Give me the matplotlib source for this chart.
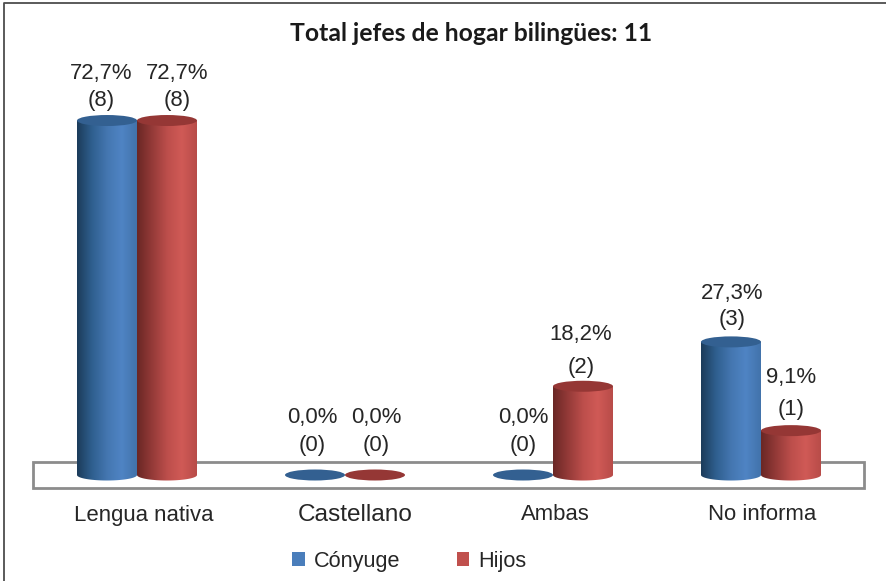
import numpy as np
import matplotlib
matplotlib.use("Agg")
import matplotlib.pyplot as plt
from matplotlib.colors import LinearSegmentedColormap
from matplotlib.lines import Line2D
from matplotlib.patches import Ellipse, Polygon, Rectangle, Patch

categories = ["Lengua nativa", "Castellano", "Ambas", "No informa"]
conyuge_pct = [72.7, 0.0, 0.0, 27.3]
hijos_pct = [72.7, 0.0, 18.2, 9.1]
conyuge_n = [8, 0, 0, 3]
hijos_n = [8, 0, 2, 1]
title = "Total jefes de hogar bilingües: 11"

W, H = 887, 581
PX_X = 208.0    # px per category
PX_Y = 4.876    # px per percent
X0, Y0 = 137, 475
BAR_W = 60 / PX_X
ELL_H = 11 / PX_Y

BLUE = LinearSegmentedColormap.from_list(
    "b", ["#1c3c5a", "#2f5f8f", "#4476b0", "#4f84c4", "#4273ab"])
RED = LinearSegmentedColormap.from_list(
    "r", ["#6a2725", "#943a38", "#bc4e4b", "#d05a56", "#b84c49"])
BLUE_TOP, RED_TOP = "#336091", "#953735"


def xd(px):
    return (px - X0) / PX_X


def yd(py):
    return (Y0 - py) / PX_Y


def cylinder(ax, xc, val, cmap, top, z):
    if val > 0:
        t = np.linspace(np.pi, 2 * np.pi, 40)
        xs = xc + BAR_W / 2 * np.cos(t)
        ys = ELL_H / 2 * np.sin(t)
        verts = np.column_stack([xs, ys])
        verts = np.vstack([verts, [xc + BAR_W / 2, val], [xc - BAR_W / 2, val]])
        grad = np.linspace(0, 1, 128).reshape(1, -1)
        im = ax.imshow(grad, cmap=cmap, aspect="auto", zorder=z,
                       extent=[xc - BAR_W / 2, xc + BAR_W / 2, -ELL_H, val])
        im.set_clip_path(Polygon(verts, closed=True, transform=ax.transData))
    ax.add_patch(Ellipse((xc, val), BAR_W, ELL_H, facecolor=top, edgecolor="none", zorder=z + 0.1))


plt.rcParams["font.family"] = "Liberation Sans"
fig = plt.figure(figsize=(W / 100, H / 100), dpi=100)
ax = fig.add_axes([0, 0, 1, 1])
ax.axis("off")

# chart frame, only top and left show in the scan
fig.add_artist(Line2D([4.5 / W, 4.5 / W, 1], [0, 1 - 3 / H, 1 - 3 / H], transform=fig.transFigure,
                      color="#4d4d4d", linewidth=1.3))

# floor of the 3d plot
ax.add_patch(Rectangle((xd(33), yd(488)), xd(864) - xd(33), yd(462) - yd(488),
                       facecolor="white", edgecolor="#8c8c8c", linewidth=2.0, zorder=1))

# label nudges in px: sideways, count above bar top, percent above count
label_dx_blue = [-6, -3, 0, 1]
label_dx_red = [10, 1, -2, 0]
label_dy_blue = [20.5, 30, 30, 22]
label_dy_red = [20.5, 30, 19, 21]
label_gap_blue = [27, 27, 27, 26]
label_gap_red = [27, 27, 33, 32]
cat_px = [144, 355, 555, 762]
cat_size = [15.9, 17.6, 15.9, 15.9]

for i in range(len(categories)):
    xb = i - BAR_W / 2
    xr = i + BAR_W / 2
    cylinder(ax, xr, hijos_pct[i], RED, RED_TOP, 3)
    cylinder(ax, xb, conyuge_pct[i], BLUE, BLUE_TOP, 4)
    for xc, p, n, dx, dy, gap in (
            (xb, conyuge_pct[i], conyuge_n[i], label_dx_blue[i], label_dy_blue[i], label_gap_blue[i]),
            (xr, hijos_pct[i], hijos_n[i], label_dx_red[i], label_dy_red[i], label_gap_red[i])):
        ax.text(xc + dx / PX_X, p + dy / PX_Y, f"({n})", ha="center", va="center",
                fontsize=15.9, color="#262626", zorder=6)
        ax.text(xc + dx / PX_X, p + (dy + gap) / PX_Y, f"{p:.1f}%".replace(".", ","), ha="center", va="center",
                fontsize=15.9, color="#262626", zorder=6)
    ax.text(xd(cat_px[i]), yd(515), categories[i], ha="center", va="center",
            fontsize=cat_size[i], color="#262626")

ax.set_xlim(xd(0), xd(W))
ax.set_ylim(yd(H), yd(0))

ax.text(xd(471), yd(33.5), title, ha="center", va="center", fontsize=17.8,
        fontweight="bold", family="Lato", color="#1a1a1a")

handles = [Patch(facecolor="#4a7ebb", label="Cónyuge"), Patch(facecolor="#c0504d", label="Hijos")]
fig.legend(handles=handles, loc="center", bbox_to_anchor=(409.5 / W, 1 - 561 / H), ncol=2, frameon=False,
           fontsize=15.6, handlelength=0.58, handleheight=0.58, handletextpad=0.42, columnspacing=2.6,
           labelcolor="#262626", borderpad=0, borderaxespad=0)

fig.savefig("out.png", dpi=100)
